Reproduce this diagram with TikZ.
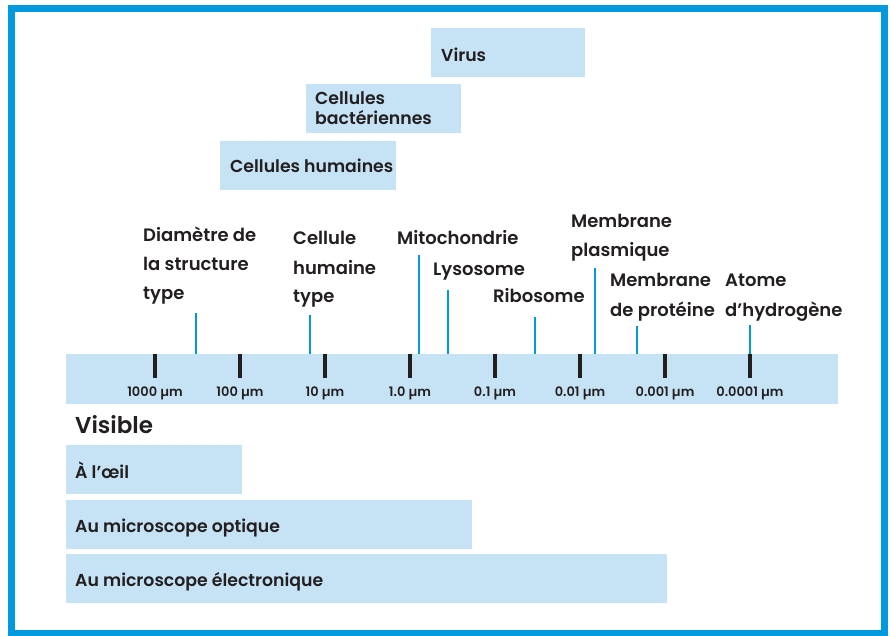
\documentclass[tikz,border=0pt]{standalone}
\usepackage{fontspec}
\setmainfont{Poppins SemiBold}
\definecolor{lblue}{HTML}{C6E2F5}
\definecolor{bblue}{HTML}{0099DD}
\definecolor{ink}{HTML}{231F20}
\begin{document}
\begin{tikzpicture}[x=1pt,y=-1pt,
  band/.style={fill=lblue,draw=none},
  lbl/.style={anchor=base west,inner sep=0pt,text=ink,font=\fontsize{18}{29}\selectfont},
  boxlbl/.style={anchor=base west,inner sep=0pt,text=ink,font=\fontsize{17.3}{20}\selectfont},
  ticklbl/.style={anchor=base,inner sep=0pt,text=ink,font=\fontsize{13}{15}\selectfont},
  tickmark/.style={line width=4pt,draw=ink},
  pointer/.style={line width=2.6pt,draw=bblue}]
\useasboundingbox (0,0) rectangle (891,636);
\fill[white] (0,0) rectangle (891,636);
\draw[bblue,line width=7pt] (11,9) rectangle (884,633);
% top boxes
\fill[band] (431,28) rectangle (585,77);
\node[boxlbl] (virus) at (441,62) {Virus};
\fill[band] (306,84) rectangle (461,133);
\node[boxlbl] (bact) at (315,105) {\vtop{\hbox{Cellules}\hbox{bactériennes}}};
\fill[band] (220,141) rectangle (396,190);
\node[boxlbl] (hum) at (230,173) {Cellules humaines};
% scale band
\fill[band] (66,354) rectangle (838,404);
\foreach \x/\t [count=\i] in {155/1000 µm,240/100 µm,325/10 µm,410/1.0 µm,495/0.1 µm,580/0.01 µm,665/0.001 µm,750/0.0001 µm}{
  \coordinate (ta\i) at (\x,354);
  \coordinate (tb\i) at (\x,378);
  \draw[tickmark] (ta\i) -- (tb\i);
  \node[ticklbl] (tl\i) at (\x,396) {\t};
}
% pointers
\foreach \x/\y [count=\i] in {196/313,310/315,419/255,448/290,535/317,595/268,637/326,750/325}{
  \coordinate (pa\i) at (\x,\y);
  \coordinate (pb\i) at (\x,354);
  \draw[pointer] (pa\i) -- (pb\i);
}
% labels
\node[lbl] (diam) at (143,242) {\vtop{\hbox{Diamètre de}\hbox{la structure}\hbox{type}}};
\node[lbl] (cell) at (293,245) {\vtop{\hbox{Cellule}\hbox{humaine}\hbox{type}}};
\node[lbl] (mito) at (397,245) {Mitochondrie};
\node[lbl] (lyso) at (433,276) {Lysosome};
\node[lbl] (ribo) at (493,302) {Ribosome};
\node[lbl] (memb) at (571,228) {\vtop{\hbox{Membrane}\hbox{plasmique}}};
\node[lbl] (prot) at (610,287) {\vtop{\hbox{Membrane}\hbox{de protéine}}};
\node[lbl] (atom) at (725,287) {\vtop{\hbox{Atome}\hbox{d’hydrogène}}};
% bottom
\node[anchor=base west,inner sep=0pt,text=ink,font=\fontsize{23}{26}\selectfont] (vis) at (75,433) {Visible};
\fill[band] (66,445) rectangle (242,494);
\node[boxlbl] (oeil) at (75,478) {À l’œil};
\fill[band] (66,500) rectangle (472,549);
\node[boxlbl] (opt) at (75,532) {Au microscope optique};
\fill[band] (66,554) rectangle (667,603);
\node[boxlbl] (elec) at (75,586) {Au microscope électronique};
\end{tikzpicture}
\end{document}
